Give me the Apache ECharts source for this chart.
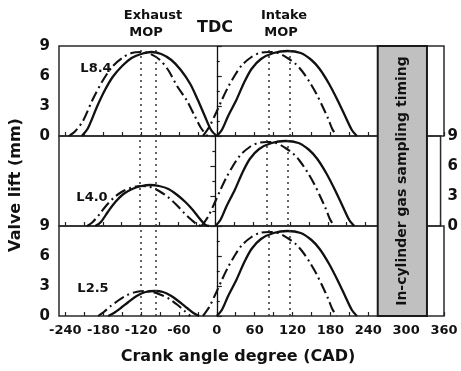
<!DOCTYPE html>
<html>
<head>
<meta charset="utf-8">
<script src="https://cdn.jsdelivr.net/npm/echarts@6/dist/echarts.min.js"></script>
<style>
  html, body { margin: 0; padding: 0; background: #fff; }
  #chart { width: 461px; height: 371px; }
</style>
</head>
<body>
<div id="chart"></div>
<script>
// Crank angle axis
const angleTicks = [-240, -180, -120, -60, 0, 60, 120, 180, 240, 300, 360];
const angleMinorTicks = [-240, -210, -180, -150, -120, -90, -60, -30, 0, 30, 60, 90, 120, 150, 180, 210, 240, 270, 300, 330, 360];
const liftTicks = [0, 3, 6, 9];
const panelLabels = ['L8.4', 'L4.0', 'L2.5'];

// Exhaust valve lift, 8.4 mm cam: nominal (solid) and advanced (dash-dot)
const exhaustL84 = [[-214, 0], [-204, 0.8], [-190, 2.9], [-178, 4.5], [-165, 5.9], [-150, 7.0], [-135, 7.8], [-120, 8.2], [-104, 8.4], [-88, 8.2], [-72, 7.6], [-57, 6.6], [-42, 5.2], [-30, 3.6], [-19, 2.0], [-9, 0.6], [0, 0]];
const exhaustL84Early = [[-234, 0], [-224, 0.5], [-212, 1.5], [-197, 3.6], [-182, 5.4], [-166, 6.9], [-150, 7.8], [-135, 8.3], [-120, 8.4], [-105, 8.2], [-90, 7.6], [-77, 6.6], [-63, 5.0], [-48, 3.6], [-35, 2.0], [-25, 0.8], [-15, 0]];

// Exhaust valve lift, 4.0 mm cam
const exhaustL40 = [[-192, 0], [-183, 0.4], [-172, 1.4], [-160, 2.4], [-147, 3.2], [-133, 3.7], [-118, 4.0], [-104, 4.1], [-90, 4.0], [-75, 3.7], [-61, 3.1], [-48, 2.4], [-36, 1.6], [-26, 0.8], [-16, 0.1], [-10, 0]];
const exhaustL40Early = [[-205, 0], [-196, 0.4], [-185, 1.2], [-175, 2.0], [-163, 2.8], [-150, 3.4], [-136, 3.8], [-120, 4.0], [-104, 3.9], [-90, 3.5], [-76, 2.9], [-62, 2.1], [-50, 1.3], [-38, 0.6], [-28, 0.1], [-22, 0]];

// Exhaust valve lift, 2.5 mm cam
const exhaustL25 = [[-172, 0], [-163, 0.3], [-152, 0.8], [-140, 1.4], [-127, 2.0], [-113, 2.4], [-98, 2.5], [-85, 2.4], [-72, 2.0], [-59, 1.4], [-47, 0.8], [-37, 0.3], [-28, 0]];
const exhaustL25Early = [[-188, 0], [-179, 0.4], [-168, 1.0], [-155, 1.6], [-142, 2.1], [-128, 2.4], [-115, 2.5], [-101, 2.4], [-88, 2.1], [-75, 1.7], [-62, 1.1], [-51, 0.5], [-42, 0]];

// Intake valve lift: nominal (solid) and advanced (dash-dot)
const intakeLift = [[0, 0], [8, 0.6], [18, 2.0], [31, 3.6], [43, 5.3], [55, 6.7], [70, 7.7], [90, 8.3], [112, 8.5], [133, 8.3], [150, 7.6], [163, 6.7], [178, 5.2], [192, 3.5], [204, 1.9], [214, 0.6], [222, 0]];
const intakeLiftEarly = [[-22, 0], [-12, 0.9], [-2, 2.2], [8, 3.6], [18, 4.9], [28, 6.0], [40, 7.1], [55, 7.9], [68, 8.3], [82, 8.4], [97, 8.3], [112, 7.8], [125, 7.2], [135, 6.5], [147, 5.4], [158, 4.2], [168, 2.9], [176, 1.8], [183, 0.7], [190, 0]];

// Reference crank angles
const exhaustMop = [-121, -96];
const intakeMop = [82, 116];
const tdcAngle = 0;
const samplingWindow = [255, 333];

const FONT = '"DejaVu Sans", Verdana, sans-serif';
const INK = '#111';

const panels = [
  { exhaust: exhaustL84, early: exhaustL84Early, yPos: 'left' },
  { exhaust: exhaustL40, early: exhaustL40Early, yPos: 'right' },
  { exhaust: exhaustL25, early: exhaustL25Early, yPos: 'left' }
];

const gridLeft = 59, gridWidth = 385, gridTop = 46, panelHeight = 90;

const grids = [], xAxes = [], yAxes = [], series = [];

panels.forEach((p, i) => {
  grids.push({
    left: gridLeft, width: gridWidth, top: gridTop + i * panelHeight, height: panelHeight,
    show: true, borderColor: '#2a2a2a', borderWidth: 1.5, backgroundColor: 'transparent'
  });
  xAxes.push({
    type: 'value', gridIndex: i, min: -250, max: 360,
    axisLine: { show: false }, splitLine: { show: false },
    axisTick: { show: true, inside: true, length: 4, customValues: angleMinorTicks, lineStyle: { color: '#222', width: 1.2 } },
    axisLabel: {
      show: i === 2, customValues: angleTicks, margin: 8,
      fontFamily: FONT, fontWeight: 'bold', fontSize: 13, color: INK
    }
  });
  yAxes.push({
    type: 'value', gridIndex: i, min: 0, max: 9, interval: 3, position: p.yPos,
    axisLine: { show: false }, splitLine: { show: false },
    axisTick: { show: true, inside: true, length: 5, lineStyle: { color: '#222', width: 1.2 } },
    minorTick: { show: true, splitNumber: 2, length: 3, lineStyle: { color: '#222', width: 1.2 } },
    axisLabel: {
      show: true, margin: p.yPos === 'right' ? 7 : 9,
      fontFamily: FONT, fontWeight: 'bold', fontSize: 15, color: INK
    }
  });

  const base = { type: 'line', xAxisIndex: i, yAxisIndex: i, showSymbol: false, smooth: 0.3, silent: true, z: 3 };
  const solid = { color: INK, width: 2.3 };
  const dashDot = { color: INK, width: 2.1, type: [11, 4, 2, 4] };

  series.push(Object.assign({}, base, {
    data: p.exhaust, lineStyle: solid,
    markLine: {
      silent: true, symbol: ['none', 'none'], label: { show: false },
      lineStyle: { color: '#333', width: 1.5, type: [2, 4] },
      data: exhaustMop.concat(intakeMop).map(v => ({ xAxis: v }))
    }
  }));
  series.push(Object.assign({}, base, { data: p.early, lineStyle: dashDot }));
  series.push(Object.assign({}, base, {
    data: intakeLift, lineStyle: solid,
    markLine: {
      silent: true, symbol: ['none', 'none'], label: { show: false },
      lineStyle: { color: INK, width: 1.3, type: 'solid' },
      data: [{ xAxis: tdcAngle }]
    }
  }));
  series.push(Object.assign({}, base, { data: intakeLiftEarly, lineStyle: dashDot }));
});

// Full-height overlay for the sampling window box
grids.push({ left: gridLeft, width: gridWidth, top: gridTop, height: panelHeight * 3, show: false });
xAxes.push({ type: 'value', gridIndex: 3, min: -250, max: 360, show: false });
yAxes.push({ type: 'value', gridIndex: 3, min: 0, max: 1, show: false });
series.push({
  type: 'custom', xAxisIndex: 3, yAxisIndex: 3, z: 10, silent: true,
  data: [samplingWindow],
  renderItem: (params, api) => {
    const p0 = api.coord([api.value(0), 1]);
    const p1 = api.coord([api.value(1), 0]);
    return {
      type: 'group',
      children: [
        {
          type: 'rect',
          shape: { x: p0[0], y: p0[1], width: p1[0] - p0[0], height: p1[1] - p0[1] },
          style: { fill: '#c0c0c0', stroke: '#1a1a1a', lineWidth: 2 }
        },
        {
          type: 'text',
          x: (p0[0] + p1[0]) / 2, y: (p0[1] + p1[1]) / 2, rotation: Math.PI / 2,
          style: {
            text: 'In-cylinder gas sampling timing',
            font: 'bold 14px ' + FONT, fill: INK, align: 'center', verticalAlign: 'middle'
          }
        }
      ]
    };
  }
});

const text = (str, x, y, size, extra) => Object.assign({
  type: 'text', x: x, y: y, silent: true,
  style: { text: str, font: 'bold ' + size + 'px ' + FONT, fill: INK, align: 'center', verticalAlign: 'middle' }
}, extra || {});

const graphic = [
  text('Exhaust', 153, 16, 13),
  text('MOP', 146, 33, 13),
  text('Intake', 284, 16, 13),
  text('MOP', 281, 33, 13),
  text('TDC', 215, 28, 16),
  text(panelLabels[0], 96, 69, 13),
  text(panelLabels[1], 92, 198, 13),
  text(panelLabels[2], 93, 289, 13),
  text('Crank angle degree (CAD)', 238, 357, 16),
  text('Valve lift (mm)', 16, 185, 16, { rotation: Math.PI / 2 })
];

const chart = echarts.init(document.getElementById('chart'), null, { renderer: 'canvas' });
chart.setOption({
  animation: false,
  backgroundColor: '#fff',
  grid: grids,
  xAxis: xAxes,
  yAxis: yAxes,
  series: series,
  graphic: graphic
});
</script>
</body>
</html>
